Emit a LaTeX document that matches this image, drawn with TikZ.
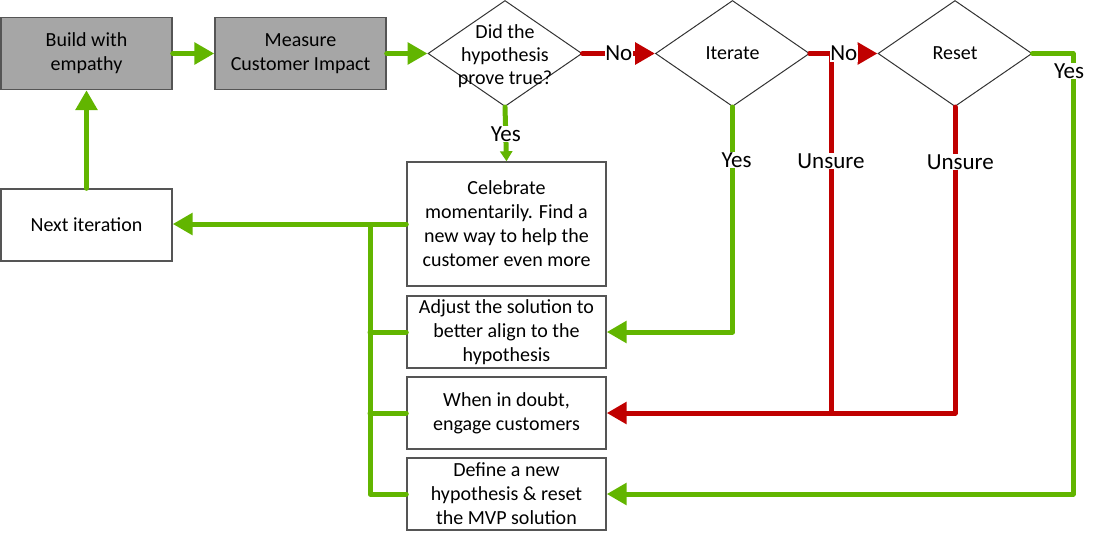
\documentclass[tikz,border=0pt]{standalone}
\usepackage{fontspec}
\setmainfont{Carlito}
\usetikzlibrary{arrows.meta,shapes.geometric}
\definecolor{gr}{RGB}{98,181,0}
\definecolor{rd}{RGB}{192,0,0}
\definecolor{boxgray}{RGB}{166,166,166}
\definecolor{edge}{RGB}{85,85,85}
\begin{document}
\begin{tikzpicture}[x=0.75pt,y=-0.75pt,
 box/.style={draw=edge, line width=1.1pt, align=center, minimum width=128.25pt, minimum height=54pt, inner sep=0pt, font=\fontsize{15}{18}\selectfont},
 gbox/.style={box, fill=boxgray},
 rbox/.style={box, minimum width=149.25pt},
 dia/.style={draw=black!80, line width=0.75pt, shape=diamond, minimum width=115.5pt, minimum height=79.5pt, inner sep=0pt},
 dtext/.style={align=center, inner sep=0pt, font=\fontsize{15}{17.6}\selectfont},
 gline/.style={draw=gr, line width=3.75pt, line join=round, line cap=round},
 rline/.style={draw=rd, line width=3.75pt, line join=round, line cap=round},
 tip/.style={-{Triangle[length=15pt,width=16pt]}},
 smalltip/.style={-{Triangle[length=7.5pt,width=9pt]}},
 lbl/.style={fill=white, inner sep=0.5pt, text=black, font=\fontsize{17.25}{20}\selectfont}]
\useasboundingbox (0,0) rectangle (1098,540);

% nodes
\node[gbox] (build) at (86.5,53.5) {Build with\\empathy};
\node[gbox] (meas) at (300.5,53.5) {Measure\\Customer Impact};
\node[dia] (d1) at (505,53.5) {};
\node[dtext] (d1t) at ([yshift=-2pt]d1.center) {Did the\\hypothesis\\prove true?};
\node[dia] (d2) at (732.5,53.5) {};
\node[dtext] (d2t) at (d2) {Iterate};
\node[dia] (d3) at (955,53.5) {};
\node[dtext] (d3t) at (d3) {Reset};
\node[box] (next) at (86.5,225) {Next iteration};
\node[rbox, minimum height=93pt] (c1) at (506.5,224) {Celebrate\\momentarily. Find a\\new way to help the\\customer even more};
\node[rbox] (c2) at (506.5,332) {Adjust the solution to\\better align to the\\hypothesis};
\node[rbox] (c3) at (506.5,413) {When in doubt,\\engage customers};
\node[rbox] (c4) at (506.5,494) {Define a new\\hypothesis \& reset\\the MVP solution};

% top flow
\draw[gline,tip] (build.east) -- (meas.west);
\draw[gline,tip] (meas.east) -- (d1.west);
\draw[gline,tip] (next.north) -- (build.south);

% left bus
\coordinate (bus) at (370,225);
\draw[gline,tip] (c1.west) -- (c1.west -| next.east);
\draw[gline] (c4.west) -| (bus);
\draw[gline] (c2.west) -- (c2.west -| bus);
\draw[gline] (c3.west) -- (c3.west -| bus);

% red unsure paths
\coordinate (r1) at (831,53.5);
\draw[rline,tip] (d2.east) -- (r1) -- node[lbl,pos=0.3]{Unsure} (r1 |- c3.east) -- (c3.east);
\draw[rline] (d3.south) -- node[lbl,pos=0.18,xshift=4pt]{Unsure} (d3.south |- c3.east) -- (r1 |- c3.east);

% green yes paths
\draw[gline,tip] (d2.south) -- node[lbl,pos=0.237,xshift=3pt]{Yes} (d2.south |- c2.east) -- (c2.east);
\coordinate (g3) at (1073,53.5);
\draw[gline,tip] (d3.east) -- (g3) -- node[lbl,pos=0.04,xshift=-3pt]{Yes} (g3 |- c4.east) -- (c4.east);
\draw[gline,smalltip] (d1.south) -- node[lbl]{Yes} (c1.north);

% no arrows
\draw[rline,tip] (d1.east) -- node[lbl]{No} (d2.west);
\draw[rline,tip] (d2.east) -- node[lbl]{No} (d3.west);
\end{tikzpicture}
\end{document}
